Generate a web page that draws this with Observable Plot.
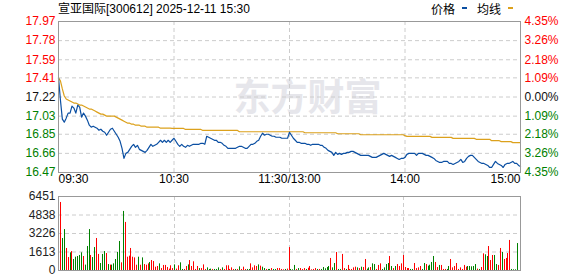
<!DOCTYPE html>
<html><head><meta charset="utf-8">
<script src="https://cdn.jsdelivr.net/npm/d3@7"></script>
<script src="https://cdn.jsdelivr.net/npm/@observablehq/plot@0.6"></script>
<style>
body{margin:0;background:#fff;width:578px;height:276px;overflow:hidden;position:relative;font-family:"Liberation Sans","Noto Sans CJK SC",sans-serif;}
#title{position:absolute;left:58px;top:3px;font-size:12px;line-height:12px;color:#000;white-space:pre;}
.lg{position:absolute;top:3px;font-size:12px;line-height:12px;color:#000;white-space:pre;}
.sw{position:absolute;top:7px;width:5px;height:2px;}
#p1{position:absolute;left:0;top:0;}
#p2{position:absolute;left:0;top:190px;}
</style></head>
<body>
<div id="title"></div>
<div id="p1"></div>
<div id="p2"></div>
<script>
// ---- data ----
const stockTitle = "宣亚国际[300612] 2025-12-11 15:30";
const legendNames = ["价格", "均线"];
const prevClose = 17.22;
const priceTickValues = [17.97, 17.78, 17.59, 17.41, 17.22, 17.03, 16.85, 16.66, 16.47];
const pctTickLabels = ["4.35%", "3.26%", "2.18%", "1.09%", "0.00%", "1.09%", "2.18%", "3.26%", "4.35%"];
const timeLabels = ["09:30", "10:30", "11:30/13:00", "14:00", "15:00"];
const timeLabelIndex = [0, 60, 120, 180, 240];
const volTickValues = [6451, 4838, 3226, 1613, 0];

const price = [
17.41,17.19,17.00,16.97,17.01,17.06,17.06,17.13,17.11,17.06,
17.14,17.12,17.02,17.06,17.03,16.99,16.94,16.92,16.93,16.92,
16.91,16.89,16.90,16.88,16.87,16.84,16.87,16.90,16.91,16.88,
16.85,16.82,16.78,16.71,16.61,16.66,16.67,16.70,16.73,16.75,
16.72,16.74,16.70,16.69,16.68,16.67,16.69,16.72,16.75,16.73,
16.74,16.75,16.77,16.79,16.77,16.79,16.77,16.79,16.77,16.79,
16.81,16.78,16.75,16.73,16.75,16.73,16.72,16.74,16.73,16.74,
16.75,16.75,16.75,16.75,16.76,16.76,16.75,16.83,16.82,16.81,
16.80,16.79,16.79,16.77,16.77,16.76,16.74,16.73,16.71,16.71,
16.71,16.71,16.71,16.72,16.73,16.73,16.72,16.71,16.71,16.73,
16.75,16.75,16.76,16.78,16.79,16.83,16.86,16.84,16.85,16.85,
16.84,16.83,16.83,16.82,16.82,16.82,16.81,16.81,16.81,16.81,
16.87,16.84,16.81,16.79,16.77,16.77,16.76,16.76,16.76,16.75,
16.75,16.74,16.75,16.75,16.75,16.75,16.74,16.74,16.72,16.71,
16.69,16.68,16.67,16.64,16.67,16.65,16.66,16.65,16.66,16.66,
16.67,16.67,16.68,16.68,16.67,16.66,16.65,16.64,16.64,16.64,
16.64,16.64,16.63,16.62,16.62,16.62,16.63,16.64,16.65,16.66,
16.65,16.64,16.63,16.64,16.63,16.62,16.61,16.60,16.61,16.61,
16.62,16.65,16.66,16.66,16.66,16.66,16.64,16.66,16.66,16.66,
16.65,16.64,16.64,16.63,16.62,16.61,16.59,16.58,16.57,16.57,
16.58,16.58,16.58,16.56,16.56,16.55,16.56,16.57,16.58,16.60,
16.57,16.58,16.61,16.63,16.64,16.64,16.62,16.60,16.58,16.57,
16.56,16.56,16.55,16.54,16.52,16.52,16.55,16.58,16.56,16.55,
16.54,16.52,16.55,16.56,16.56,16.57,16.58,16.56,16.56,16.54,
16.53];

const avgPrice = [
17.41,17.38,17.30,17.23,17.20,17.19,17.18,17.17,17.16,17.16,
17.15,17.14,17.14,17.13,17.12,17.11,17.10,17.10,17.09,17.08,
17.07,17.06,17.05,17.05,17.04,17.03,17.03,17.03,17.03,17.03,
17.02,17.01,17.00,16.99,16.98,16.97,16.96,16.96,16.95,16.95,
16.94,16.94,16.94,16.93,16.93,16.93,16.92,16.92,16.92,16.92,
16.92,16.92,16.92,16.91,16.91,16.91,16.91,16.91,16.91,16.908,
16.908,16.908,16.908,16.908,16.908,16.908,16.898,16.898,16.898,16.898,
16.898,16.898,16.898,16.898,16.898,16.888,16.888,16.888,16.888,16.888,
16.888,16.888,16.888,16.888,16.888,16.888,16.888,16.888,16.888,16.888,
16.888,16.888,16.888,16.888,16.875,16.875,16.875,16.875,16.875,16.875,
16.875,16.875,16.875,16.875,16.875,16.875,16.875,16.875,16.875,16.875,
16.875,16.875,16.875,16.875,16.875,16.875,16.875,16.875,16.875,16.875,
16.875,16.875,16.875,16.875,16.875,16.875,16.875,16.875,16.865,16.865,
16.865,16.865,16.865,16.865,16.865,16.865,16.865,16.865,16.865,16.865,
16.865,16.865,16.865,16.865,16.865,16.855,16.855,16.855,16.855,16.855,
16.855,16.855,16.855,16.855,16.855,16.855,16.855,16.845,16.845,16.845,
16.845,16.845,16.845,16.845,16.845,16.845,16.845,16.845,16.845,16.845,
16.845,16.845,16.845,16.845,16.845,16.845,16.845,16.845,16.845,16.845,
16.836,16.829,16.829,16.829,16.829,16.829,16.829,16.829,16.829,16.829,
16.829,16.829,16.829,16.829,16.819,16.819,16.819,16.819,16.819,16.819,
16.819,16.819,16.819,16.819,16.819,16.809,16.809,16.809,16.809,16.809,
16.809,16.809,16.809,16.809,16.809,16.809,16.809,16.800,16.800,16.800,
16.800,16.800,16.800,16.800,16.800,16.786,16.786,16.786,16.786,16.786,
16.777,16.777,16.777,16.777,16.777,16.777,16.767,16.767,16.767,16.767,
16.767];

const volume = [
5930,2790,3570,1920,1130,1540,1650,960,1160,1220,
1310,1540,1220,470,2090,3570,1310,1130,2000,2790,
1400,610,1400,1650,1480,520,470,470,580,960,
1570,2530,670,5150,4190,1160,1250,1920,1160,1100,
460,1160,460,1100,520,460,580,700,870,780,
290,350,580,170,440,440,260,120,410,170,
490,120,410,670,90,90,350,490,870,350,
760,90,350,170,170,490,90,230,90,120,
90,90,90,230,90,230,90,410,410,90,
230,90,90,90,320,90,290,90,90,90,
580,230,410,350,490,380,290,170,90,90,
90,170,90,90,170,170,90,60,90,120,
2000,
90,60,440,90,170,170,90,170,90,200,
350,60,90,170,90,90,90,260,150,260,
350,1050,230,610,1570,90,90,1400,170,90,
440,90,90,230,290,230,170,290,260,960,
120,230,260,580,520,90,440,580,90,230,
520,610,1220,350,170,350,520,350,580,1310,
260,170,170,90,90,610,170,230,350,90,
610,520,380,460,700,1220,700,260,440,440,
90,90,90,350,960,230,350,610,90,230,
90,440,290,350,350,320,350,520,120,90,
260,1450,1370,1220,2090,870,1310,1310,520,440,
1920,1570,960,1050,1480,2620,90,60,60,2350];

// r = up (red), g = down (green)
const volumeDirection = (
"rggrrgrggg"+"ggrgggrggr"+"rgggrgrggg"+"ggrgrrrrrr"+"rgrgrrrgrr"+
"rrgrrrrrrr"+"grrggrrgrr"+"rrrgrrrggg"+"rgggrgrrrr"+"rrgrgrrrgg"+
"rrrrgrggrg"+"grggrrrrgr"+"r"+
"gggrgrrrgr"+"rrrrgrgggg"+"grggrggrrg"+"rrrrrgrgrr"+"ggrggrrrgg"+
"ggrgrgrrrr"+"rrrggrrrrg"+"grggggrrgr"+"rrggrrrrrr"+"rrrgggggrg"+
"rrggrrrggr"+"rgrrrrgggg").split("");

// ---- styles ----
const RED = "#ff0000", GREEN = "#008000", DARK = "#101010";
const BLUE = "#0b4fa2", GOLD = "#dca11c";
const GRID = "#cccccc";
const FONT = '"Liberation Sans","Noto Sans CJK SC",sans-serif';

document.getElementById("title").textContent = stockTitle;
// legend
const lg = [[431, BLUE, 462], [477, GOLD, 508]];
legendNames.forEach((n, k) => {
  const s = document.createElement("div");
  s.className = "lg"; s.style.left = lg[k][0] + "px"; s.textContent = n;
  s.style.fontFamily = '"Noto Sans CJK SC",sans-serif';
  document.body.appendChild(s);
  const w = document.createElement("div");
  w.className = "sw"; w.style.left = lg[k][2] + "px"; w.style.background = lg[k][1];
  document.body.appendChild(w);
});

const idx = d3.range(price.length);
const priceRows = idx.map(i => ({i, p: price[i], a: avgPrice[i]}));
const priceTicks = priceTickValues.map((v, k) => ({v, pct: pctTickLabels[k]}));
const tickColor = v => Math.abs(v - prevClose) < 0.005 ? DARK : (v > prevClose ? RED : GREEN);
const times = timeLabelIndex.map((t, k) => ({t, label: timeLabels[k]}));
const innerTimes = timeLabelIndex.slice(1, -1);

const p1 = Plot.plot({
  width: 578, height: 190,
  marginLeft: 58, marginRight: 58, marginTop: 21, marginBottom: 18,
  x: {domain: [0, 240], axis: null},
  y: {domain: [16.47, 17.97], axis: null},
  color: {type: "identity"},
  style: {fontFamily: FONT, fontSize: "12px", background: "transparent", overflow: "visible"},
  marks: [
    Plot.text(["东方财富"], {frameAnchor: "middle", dx: 18, dy: 2, fontSize: 37, fontWeight: "bold",
      fill: "#e6e6eb", fontFamily: '"Noto Sans CJK SC",sans-serif'}),
    Plot.ruleY(priceTickValues.slice(1, -1), {stroke: GRID, strokeDasharray: "4,3"}),
    Plot.ruleX(innerTimes, {stroke: GRID, strokeDasharray: "4,3"}),
    Plot.line(priceRows, {x: "i", y: "a", stroke: GOLD, strokeWidth: 1.2}),
    Plot.line(priceRows, {x: "i", y: "p", stroke: BLUE, strokeWidth: 1.2}),
    Plot.frame({stroke: "#999999"}),
    Plot.text(priceTicks, {y: "v", text: d => d.v.toFixed(2), frameAnchor: "left", dx: -3,
      textAnchor: "end", fill: d => tickColor(d.v), fontSize: 12}),
    Plot.text(priceTicks, {y: "v", text: "pct", frameAnchor: "right", dx: 4,
      textAnchor: "start", fill: d => tickColor(d.v), fontSize: 12}),
    Plot.text(times.slice(0, 1), {x: "t", text: "label", frameAnchor: "bottom", dy: 10, textAnchor: "start", fill: "#000"}),
    Plot.text(times.slice(1, -1), {x: "t", text: "label", frameAnchor: "bottom", dy: 10, textAnchor: "middle", fill: "#000"}),
    Plot.text(times.slice(-1), {x: "t", text: "label", frameAnchor: "bottom", dy: 10, textAnchor: "end", fill: "#000"})
  ]
});
document.getElementById("p1").appendChild(p1);

const volRows = idx.map(i => ({i, v: volume[i], dir: volumeDirection[i]}));
const p2 = Plot.plot({
  width: 578, height: 86,
  marginLeft: 58, marginRight: 58, marginTop: 6, marginBottom: 6,
  x: {domain: [0, 240], range: [60, 517], axis: null, round: true},
  y: {domain: [0, 6451], axis: null},
  color: {type: "identity"},
  style: {fontFamily: FONT, fontSize: "12px", background: "transparent", overflow: "visible"},
  marks: [
    Plot.ruleY(volTickValues.slice(1, -1), {stroke: GRID, strokeDasharray: "4,3"}),
    Plot.ruleX([60, 120, 180].map(t => t), {x: d => d, stroke: GRID, strokeDasharray: "4,3", dx: 0}),
    Plot.ruleX(volRows, {x: "i", y1: 0, y2: "v", stroke: d => d.dir === "r" ? RED : GREEN, strokeWidth: 1}),
    Plot.frame({stroke: "#999999"}),
    Plot.text(volTickValues, {y: d => d, text: d => String(d), frameAnchor: "left", dx: -3,
      textAnchor: "end", fill: "#222", fontSize: 12})
  ]
});
document.getElementById("p2").appendChild(p2);
</script>
</body></html>
